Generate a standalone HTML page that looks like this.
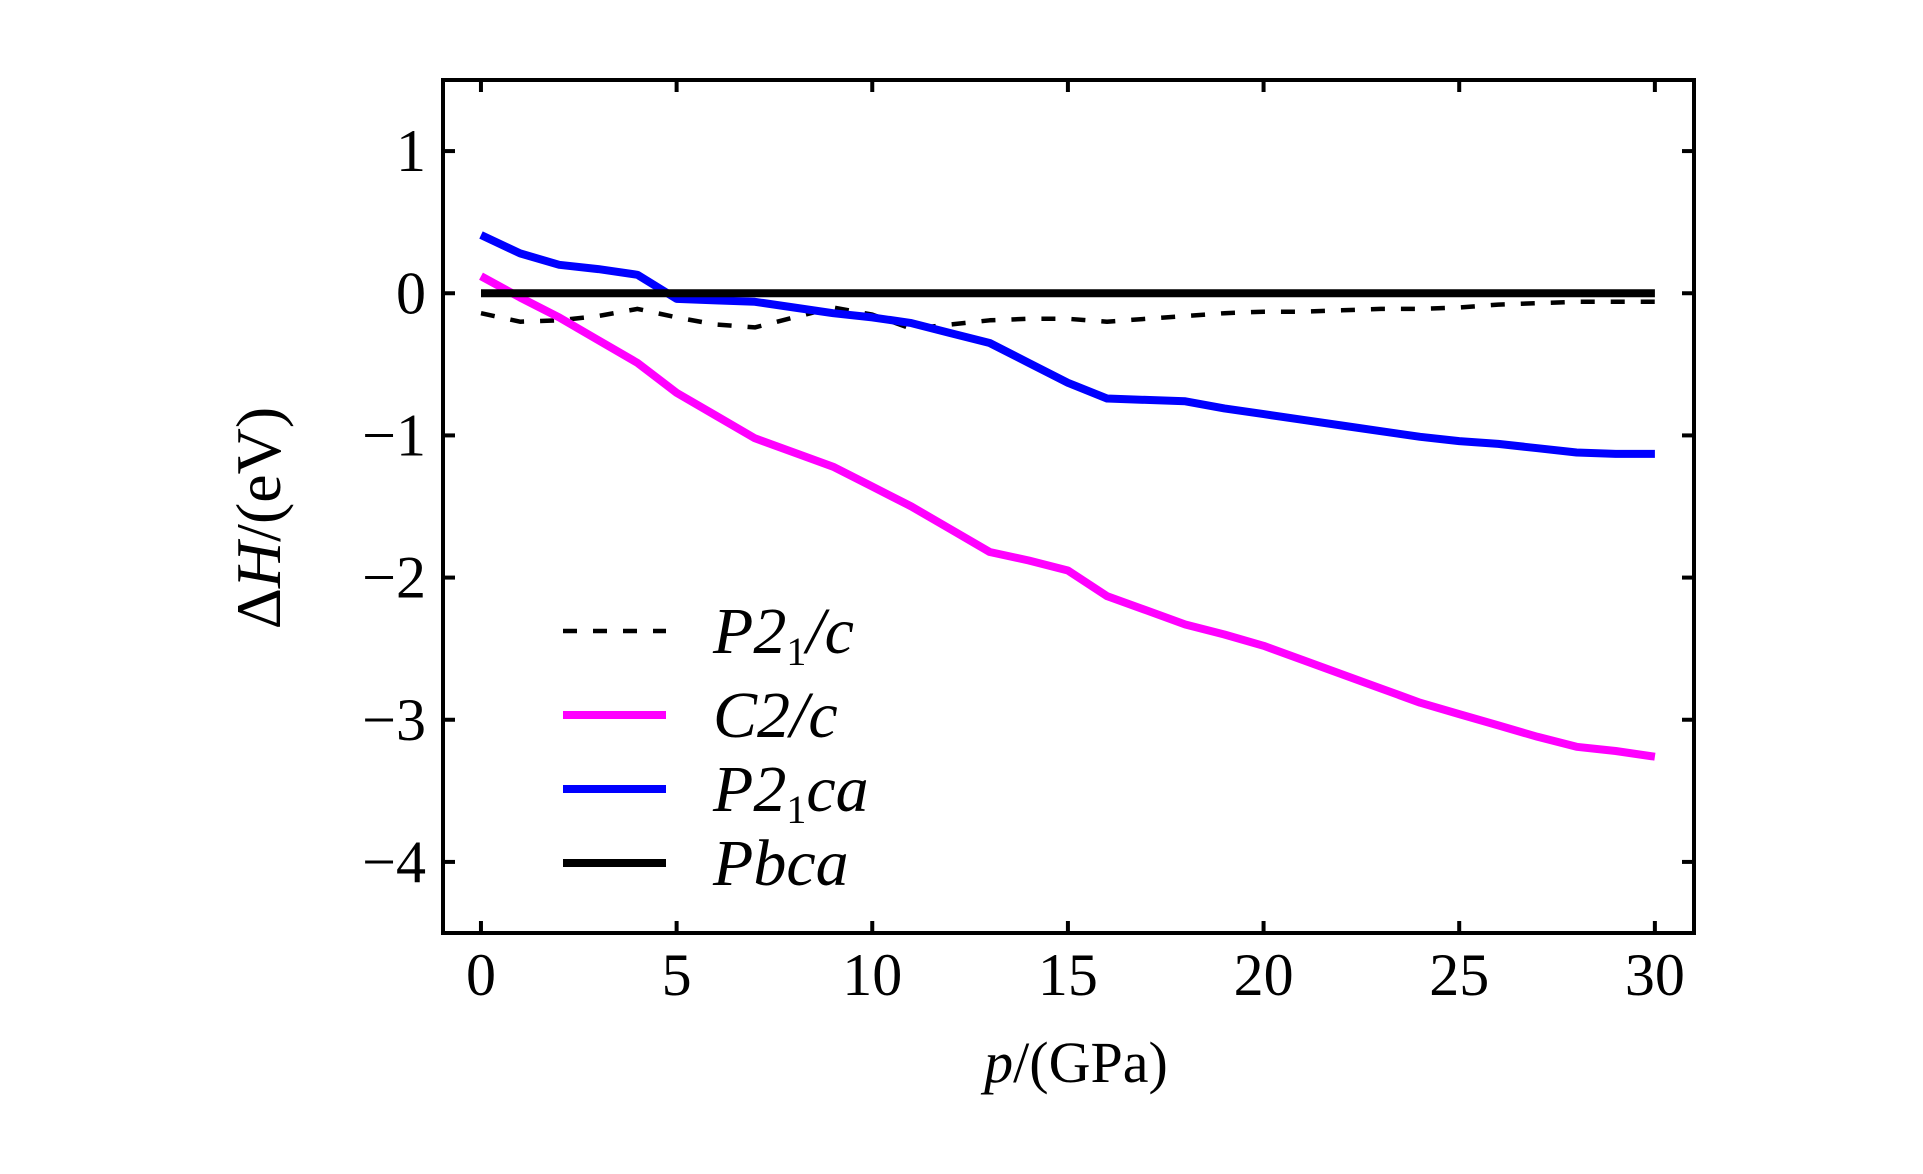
<!DOCTYPE html>
<html><head><meta charset="utf-8"><style>
html,body{margin:0;padding:0;background:#fff;}
svg text{font-family:"Liberation Serif",serif;fill:#000;}
</style></head><body>
<svg id="chart" width="1923" height="1169" viewBox="0 0 1923 1169" xmlns="http://www.w3.org/2000/svg">
<g id="plot"></g>
</svg>
<script>
const pressures=[0,1,2,3,4,5,6,7,8,9,10,11,12,13,14,15,16,17,18,19,20,21,22,23,24,25,26,27,28,29,30];
const p21c=[-0.14,-0.2,-0.19,-0.16,-0.11,-0.17,-0.22,-0.24,-0.17,-0.1,-0.15,-0.25,-0.22,-0.19,-0.18,-0.18,-0.2,-0.18,-0.16,-0.14,-0.13,-0.13,-0.12,-0.11,-0.11,-0.1,-0.08,-0.07,-0.06,-0.06,-0.06];
const c2c=[0.12,-0.03,-0.17,-0.33,-0.49,-0.7,-0.86,-1.02,-1.12,-1.22,-1.36,-1.5,-1.66,-1.82,-1.88,-1.95,-2.13,-2.23,-2.33,-2.4,-2.48,-2.58,-2.68,-2.78,-2.88,-2.96,-3.04,-3.12,-3.19,-3.22,-3.26];
const p21ca=[0.41,0.28,0.2,0.17,0.13,-0.04,-0.05,-0.06,-0.1,-0.14,-0.17,-0.21,-0.28,-0.35,-0.49,-0.63,-0.74,-0.75,-0.76,-0.81,-0.85,-0.89,-0.93,-0.97,-1.01,-1.04,-1.06,-1.09,-1.12,-1.13,-1.13];
const pbca=[0,0,0,0,0,0,0,0,0,0,0,0,0,0,0,0,0,0,0,0,0,0,0,0,0,0,0,0,0,0,0];
const xTicks=[0,5,10,15,20,25,30];
const yTicks=[1,0,-1,-2,-3,-4];

const NS="http://www.w3.org/2000/svg";
const g=document.getElementById('plot');
const L=443,R=1694,T=80,B=933;
const xMin=-0.97,xMax=31,yMin=-4.5,yMax=1.5;
const X=v=>L+(v-xMin)/(xMax-xMin)*(R-L);
const Y=v=>B-(v-yMin)/(yMax-yMin)*(B-T);
function mk(tag,attrs){const e=document.createElementNS(NS,tag);for(const k in attrs)e.setAttribute(k,attrs[k]);g.appendChild(e);return e;}

function series(vals,color,dash,name,w){
  const d=pressures.map((p,i)=>(i?'L':'M')+X(p).toFixed(1)+' '+Y(vals[i]).toFixed(1)).join(' ');
  const e=mk('path',{d:d,fill:'none',stroke:color,'stroke-width':w,'stroke-linejoin':'round'});
  if(dash)e.setAttribute('stroke-dasharray',dash);
  
  
}
series(p21c,'#000','14 16','series-p21c',4.5);
series(c2c,'#ff00ff',null,'series-c2c',8);
series(p21ca,'#0000ff',null,'series-p21ca',8);
series(pbca,'#000',null,'series-pbca',8);

const fr=mk('rect',{x:L,y:T,width:R-L,height:B-T,fill:'none',stroke:'#000','stroke-width':4});



xTicks.forEach(v=>{
  const x=X(v);
  const t1=mk('line',{x1:x,x2:x,y1:B,y2:B-12,stroke:'#000','stroke-width':4});
  
  
  const t2=mk('line',{x1:x,x2:x,y1:T,y2:T+12,stroke:'#000','stroke-width':4});
  
  
  const lb=mk('text',{x:x,y:995,'text-anchor':'middle','font-size':60});
  lb.textContent=String(v);
  
  
});
yTicks.forEach(v=>{
  const y=Y(v);
  const t1=mk('line',{x1:L,x2:L+12,y1:y,y2:y,stroke:'#000','stroke-width':4});
  
  
  const t2=mk('line',{x1:R,x2:R-12,y1:y,y2:y,stroke:'#000','stroke-width':4});
  
  
  const lb=mk('text',{x:426,y:y+20,'text-anchor':'end','font-size':60});
  lb.textContent=v<0?'\u2212'+Math.abs(v):String(v);
  
  
});

const xt=mk('text',{x:1076,y:1082,'text-anchor':'middle','font-size':58});
xt.innerHTML='<tspan font-style="italic">p</tspan>/(GPa)';


const yt=mk('text',{x:0,y:0,'text-anchor':'middle','font-size':64,transform:'translate(280,518) rotate(-90)'});
yt.innerHTML='Δ<tspan font-style="italic">H</tspan>/(eV)';



const legend=[
  {lbl:'P2<tspan font-size="40" font-style="normal" dy="12">1</tspan><tspan dy="-12">/c</tspan>',c:'#000',dash:'14 16',w:4.5,y:631},
  {lbl:'C2/c',c:'#ff00ff',dash:null,w:8,y:715},
  {lbl:'P2<tspan font-size="40" font-style="normal" dy="12">1</tspan><tspan dy="-12">ca</tspan>',c:'#0000ff',dash:null,w:8,y:789},
  {lbl:'Pbca',c:'#000',dash:null,w:8,y:863}
];
legend.forEach(e=>{
  const ln=mk('line',{x1:563,x2:666,y1:e.y,y2:e.y,stroke:e.c,'stroke-width':e.w});
  if(e.dash)ln.setAttribute('stroke-dasharray',e.dash);
  
  
  const t=mk('text',{x:713,y:e.y+22,'font-size':66,'font-style':'italic'});
  t.innerHTML=e.lbl;
  
  
});
</script>
</body></html>
